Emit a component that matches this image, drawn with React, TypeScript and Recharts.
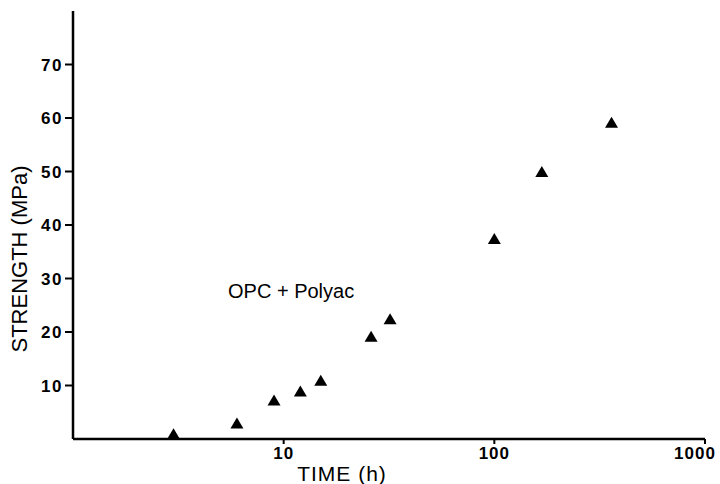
import { ScatterChart, Scatter, XAxis, YAxis, Label } from 'recharts';

const hours = [3, 6, 9, 12, 15, 26, 32, 100, 168, 360];
const strength = [0.9, 2.9, 7.2, 8.9, 10.9, 19.1, 22.4, 37.4, 49.9, 59.1];
const xTicks = [10, 100, 1000];
const yTicks = [10, 20, 30, 40, 50, 60, 70];

const data = hours.map((h, i) => ({ h, s: strength[i] }));

const FONT = '"Liberation Sans", Arial, sans-serif';

const Triangle = ({ cx, cy }: any) => (
  <polygon points={`${cx},${cy - 6} ${cx - 6.5},${cy + 5} ${cx + 6.5},${cy + 5}`} fill='#000' />
);

const XTick = ({ x, y, payload }: any) => (
  <text x={payload.value === 1000 ? x - 9 : x} y={y + 13} textAnchor='middle' fontFamily={FONT}
    fontSize={17} fontWeight='bold' letterSpacing={1} fill='#000'>
    {payload.value}
  </text>
);

const YTick = ({ x, y, payload }: any) => (
  <text x={x} y={y + 6} textAnchor='end' fontFamily={FONT} fontSize={17} fontWeight='bold'
    letterSpacing={1.5} fill='#000'>
    {payload.value}
  </text>
);

const App = () => {
  return (
    <div style={{ position: 'absolute', left: 0, top: 0, width: 720, height: 484, background: '#fff' }}>
      <ScatterChart width={720} height={484} margin={{ top: 11, right: 15, bottom: 0, left: 0 }}>
        <XAxis type='number' dataKey='h' scale='log' domain={[1, 1000]} ticks={xTicks}
          allowDataOverflow height={45} tickSize={5} tick={<XTick />}
          axisLine={{ stroke: '#000', strokeWidth: 2.5 }} tickLine={{ stroke: '#000', strokeWidth: 2 }}>
          <Label content={() => (
            <text x={342} y={481} textAnchor='middle' fontFamily={FONT} fontSize={21} letterSpacing={1} fill='#000'>
              TIME (h)
            </text>
          )} />
        </XAxis>
        <YAxis type='number' dataKey='s' domain={[0, 80]} ticks={yTicks} width={73} tickSize={8}
          tickMargin={2} tick={<YTick />}
          axisLine={{ stroke: '#000', strokeWidth: 2.5 }} tickLine={{ stroke: '#000', strokeWidth: 2 }}>
          <Label content={() => (
            <text x={27} y={259} transform='rotate(-90 27 259)' textAnchor='middle' fontFamily={FONT}
              fontSize={22} fill='#000'>
              STRENGTH (MPa)
            </text>
          )} />
        </YAxis>
        <Scatter data={data} shape={<Triangle />} isAnimationActive={false} />
      </ScatterChart>
      <div style={{ position: 'absolute', left: 228, top: 280, fontFamily: FONT, fontSize: 20, color: '#000', whiteSpace: 'nowrap' }}>
        OPC + Polyac
      </div>
    </div>
  );
};

export default App;
